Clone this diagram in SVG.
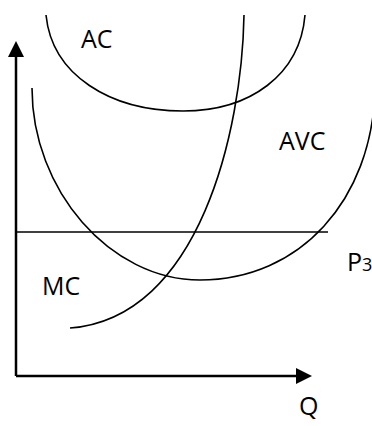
<svg xmlns="http://www.w3.org/2000/svg" width="372" height="426" viewBox="0 0 372 426">
<style>
.c{fill:none;stroke:#000;stroke-width:1.6}
.ax{fill:none;stroke:#000;stroke-width:2.5}
.t{font-family:"Open Sans","Liberation Sans",sans-serif;font-size:25px;fill:#000}
</style>
<defs>
<marker id="ah" viewBox="0 0 16 16" refX="1" refY="8" markerWidth="16" markerHeight="16" markerUnits="userSpaceOnUse" orient="auto">
<path d="M0,0 L16,8 L0,16 Z" fill="#000"/>
</marker>
</defs>
<rect width="372" height="426" fill="#fff"/>
<g id="connectors">
<path id="y-axis" class="ax" d="M16,376 L16,56" marker-end="url(#ah)"/>
<path id="x-axis" class="ax" d="M16,376 L297,376" marker-end="url(#ah)"/>
<path id="p3-line" class="c" d="M16,232 L328,232"/>
</g>
<g id="AC">
<path class="c" d="M46,15 C52,75 110,111 183,111 C250,111 300,75 305,15"/>
<text class="t" x="81" y="48">AC</text>
</g>
<g id="AVC">
<path class="c" d="M32,88 C32,190 110,280 200,280 C300,280 372,200 375,90"/>
<text class="t" x="279" y="150">AVC</text>
</g>
<g id="MC">
<path class="c" d="M244,15 C242,130 200,318 70,328"/>
<text class="t" x="42" y="295">MC</text>
</g>
<g id="P3">
<text class="t" x="347" y="271">P<tspan font-size="18">3</tspan></text>
</g>
<g id="Q">
<text class="t" x="299" y="415">Q</text>
</g>
</svg>
